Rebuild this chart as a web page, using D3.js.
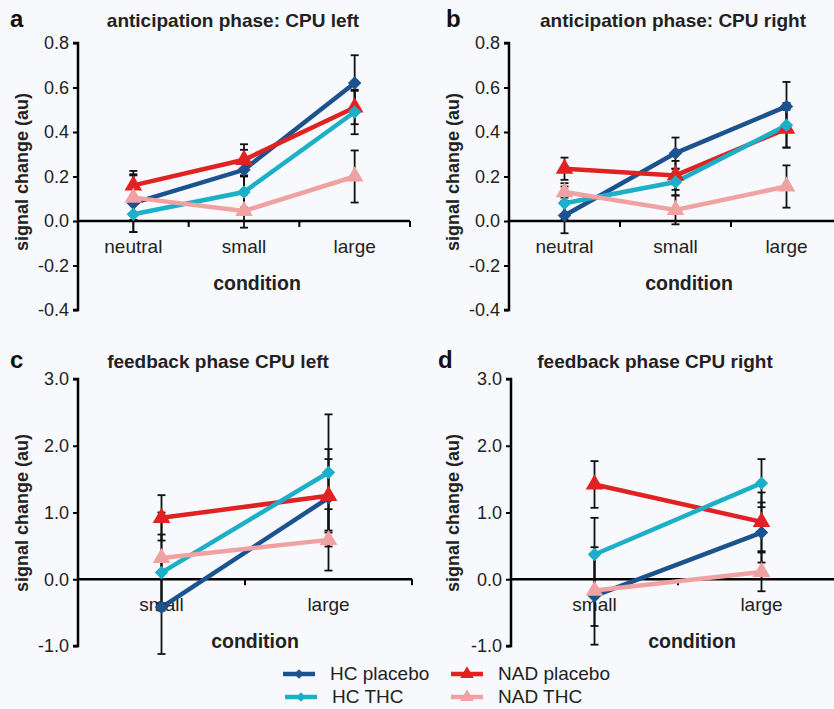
<!DOCTYPE html>
<html><head><meta charset="utf-8">
<script src="https://cdn.jsdelivr.net/npm/d3@7"></script>
<style>
body{margin:0;background:#f8f9fc;}
svg{display:block;font-family:"Liberation Sans",Arial,sans-serif;}
</style></head>
<body><svg id="chart" width="834" height="709"></svg>
<script>
const seriesNames = ["HC placebo","NAD placebo","HC THC","NAD THC"];
const seriesColors = ["#1b538f","#e02222","#1cb0c8","#f0a2a2"];
const seriesMarkers = ["diamond","triangle","diamond","triangle"];

const antCategories = ["neutral","small","large"];
const fbCategories = ["small","large"];
const antTicks = [0.8,0.6,0.4,0.2,0.0,-0.2,-0.4];
const fbTicks = [3.0,2.0,1.0,0.0,-1.0];

// panel a values [HC placebo, NAD placebo, HC THC, NAD THC]
const aValues = [[0.08,0.23,0.62],[0.16,0.275,0.51],[0.03,0.13,0.49],[0.105,0.045,0.20]];
const aErrors = [[0.13,0.09,0.125],[0.065,0.07,0.075],[0.08,0.07,0.10],[0.10,0.075,0.117]];
// panel b
const bValues = [[0.025,0.305,0.515],[0.235,0.205,0.415],[0.08,0.175,0.43],[0.13,0.05,0.155]];
const bErrors = [[0.08,0.07,0.11],[0.05,0.065,0.085],[0.075,0.06,0.10],[0.04,0.065,0.095]];
// panel c
const cValues = [[-0.42,1.22],[0.92,1.25],[0.10,1.60],[0.32,0.59]];
const cErrors = [[0.70,0.73],[0.34,0.55],[0.57,0.87],[0.68,0.46]];
// panel d
const dValues = [[-0.25,0.70],[1.42,0.86],[0.37,1.44],[-0.17,0.11]];
const dErrors = [[0.73,0.45],[0.35,0.44],[0.55,0.36],[0.53,0.29]];

const panels = [
 {letter:"a",title:"anticipation phase: CPU left",cats:antCategories,vals:aValues,errs:aErrors,ticks:antTicks,dom:[-0.4,0.8],x0:78,x1:410,yTop:43,yBot:310,titleX:233,titleY:27,letterX:10,ylabX:28,ylabY:172,condX:257,condY:290},
 {letter:"b",title:"anticipation phase:  CPU right",cats:antCategories,vals:bValues,errs:bErrors,ticks:antTicks,dom:[-0.4,0.8],x0:509,x1:842,yTop:43,yBot:310,titleX:673,titleY:27,letterX:446,ylabX:459,ylabY:172,condX:689,condY:290},
 {letter:"c",title:"feedback phase CPU left",cats:fbCategories,vals:cValues,errs:cErrors,ticks:fbTicks,dom:[-1,3],x0:78,x1:412,yTop:379,yBot:646,titleX:218,titleY:368,letterX:10,ylabX:28,ylabY:513,condX:255,condY:648},
 {letter:"d",title:"feedback phase CPU right",cats:fbCategories,vals:dValues,errs:dErrors,ticks:fbTicks,dom:[-1,3],x0:511,x1:845,yTop:379,yBot:646,titleX:655,titleY:368,letterX:438,ylabX:459,ylabY:513,condX:692,condY:648}
];

const svg = d3.select("#chart");
svg.append("rect").attr("width",834).attr("height",709).attr("fill","#f8f9fc");

function markerPath(type,size){
  return d3.symbol().type(type==="diamond"?d3.symbolSquare:d3.symbolTriangle).size(size)();
}

panels.forEach(p=>{
  const g = svg.append("g");
  const x = d3.scaleBand().domain(p.cats).range([p.x0,p.x1]);
  const y = d3.scaleLinear().domain(p.dom).range([p.yBot,p.yTop]);
  const fmt = d3.format(".1f");
  // y axis
  const ya = g.append("g").attr("transform",`translate(${p.x0},0)`)
    .call(d3.axisLeft(y).tickValues(p.ticks).tickSize(5).tickPadding(4).tickFormat(v=>fmt(v).replace("−","-")));
  ya.select(".domain").attr("stroke","#000").attr("stroke-width",2.5).attr("d",`M-5,${p.yTop}H0V${p.yBot}H-5`);
  ya.selectAll(".tick line").attr("stroke","#000").attr("stroke-width",2);
  ya.selectAll(".tick text").attr("font-size",18).attr("fill","#222").attr("font-family","Liberation Sans, Arial, sans-serif");
  // x axis at zero
  const xa = g.append("g").attr("transform",`translate(0,${y(0)})`);
  xa.append("line").attr("x1",p.x0).attr("x2",p.x1).attr("stroke","#000").attr("stroke-width",2.5);
  p.cats.forEach((c,i)=>{
    const bx = x(c)+x.bandwidth();
    xa.append("line").attr("x1",bx).attr("x2",bx).attr("y1",0).attr("y2",6).attr("stroke","#000").attr("stroke-width",2);
    xa.append("text").attr("x",x(c)+x.bandwidth()/2).attr("y",32).attr("text-anchor","middle")
      .attr("font-size",19).attr("fill","#222").text(c);
  });
  // titles
  g.append("text").attr("x",p.letterX).attr("y",p.titleY).attr("font-size",24).attr("font-weight","bold").attr("fill","#111").text(p.letter);
  g.append("text").attr("x",p.titleX).attr("y",p.titleY).attr("text-anchor","middle").attr("font-size",19).attr("font-weight","bold").attr("fill","#222").text(p.title);
  g.append("text").attr("transform",`translate(${p.ylabX},${p.ylabY}) rotate(-90)`).attr("text-anchor","middle")
    .attr("font-size",18).attr("font-weight","bold").attr("fill","#222").text("signal change (au)");
  g.append("text").attr("x",p.condX).attr("y",p.condY).attr("text-anchor","middle")
    .attr("font-size",19.5).attr("font-weight","bold").attr("fill","#222").text("condition");

  const cx = c=>x(c)+x.bandwidth()/2;
  const line = d3.line().x(d=>cx(d.c)).y(d=>y(d.v));
  // lines
  p.vals.forEach((vals,s)=>{
    const pts = vals.map((v,i)=>({c:p.cats[i],v}));
    g.append("path").attr("d",line(pts)).attr("fill","none").attr("stroke",seriesColors[s]).attr("stroke-width",4.5);
  });
  // error bars
  p.vals.forEach((vals,s)=>{
    vals.forEach((v,i)=>{
      const e = p.errs[s][i], xx = cx(p.cats[i]);
      g.append("line").attr("x1",xx).attr("x2",xx).attr("y1",y(v-e)).attr("y2",y(v+e)).attr("stroke","#111").attr("stroke-width",1.8);
      [v-e,v+e].forEach(t=>g.append("line").attr("x1",xx-4).attr("x2",xx+4).attr("y1",y(t)).attr("y2",y(t)).attr("stroke","#111").attr("stroke-width",1.8));
    });
  });
  // markers
  p.vals.forEach((vals,s)=>{
    vals.forEach((v,i)=>{
      const t = seriesMarkers[s];
      g.append("path").attr("d",markerPath(t,t==="diamond"?90:135))
        .attr("transform",`translate(${cx(p.cats[i])},${y(v)}) rotate(${t==="diamond"?45:0})`)
        .attr("fill",seriesColors[s]);
    });
  });
});

// legend
const legendPos = [[283,674],[451,674],[285,697],[451,697]];
seriesNames.forEach((n,s)=>{
  const [lx,ly] = legendPos[s];
  const g = svg.append("g");
  g.append("line").attr("x1",lx).attr("x2",lx+32).attr("y1",ly).attr("y2",ly).attr("stroke",seriesColors[s]).attr("stroke-width",4.5);
  const t = seriesMarkers[s];
  g.append("path").attr("d",markerPath(t,t==="diamond"?45:80)).attr("transform",`translate(${lx+16},${ly}) rotate(${t==="diamond"?45:0})`).attr("fill",seriesColors[s]);
  g.append("text").attr("x",lx+47).attr("y",ly+6).attr("font-size",19).attr("fill","#222").text(n);
});
</script></body></html>
